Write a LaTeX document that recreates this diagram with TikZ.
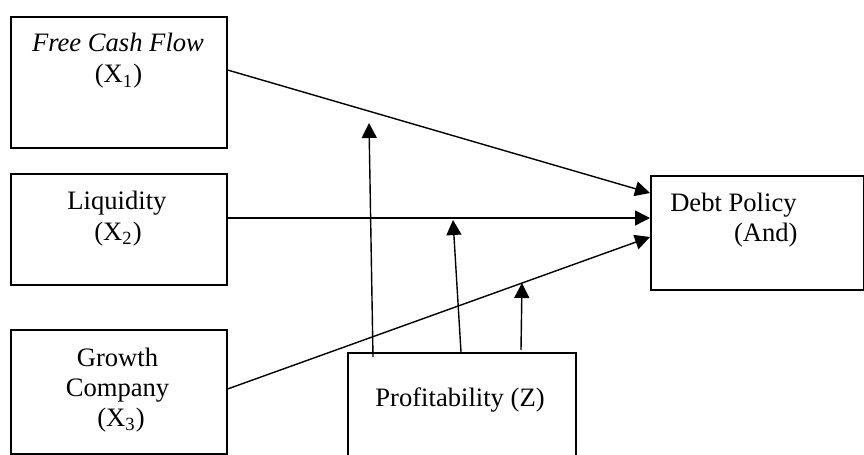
\documentclass[tikz,border=0pt]{standalone}
\usepackage{fontspec}
\setmainfont{Liberation Serif}
\usetikzlibrary{arrows.meta,calc}
\begin{document}
\begin{tikzpicture}[x=0.5pt,y=-0.5pt,
  box/.style={draw,line width=0.8pt,rectangle,inner sep=0pt,anchor=north west},
  lbl/.style={inner sep=0pt,anchor=base,font=\fontsize{13.3}{16}\selectfont},
  arr/.style={line width=0.7pt,-{Triangle[length=7.5pt,width=7.5pt]}}]
\useasboundingbox (0,0) rectangle (864,455);
\clip (0,0) rectangle (864,455);
% boxes
\node[box,minimum width=108pt,minimum height=65.5pt] (x1) at (10,16) {};
\node[box,minimum width=108pt,minimum height=55.5pt] (x2) at (10,173) {};
\node[box,minimum width=108pt,minimum height=62pt] (x3) at (10,329) {};
\node[box,minimum width=114pt,minimum height=70pt] (p) at (347,352) {};
\node[box,minimum width=106.5pt,minimum height=57pt] (d) at (650,175) {};
% labels
\node[lbl] (x1a) at (118,52) {\itshape Free Cash Flow};
\node[lbl] (x1b) at (118.5,83) {(X\textsubscript{1})};
\node[lbl] (x2a) at (117,209) {Liquidity};
\node[lbl] (x2b) at (118,240) {(X\textsubscript{2})};
\node[lbl] (x3a) at (117.5,366) {Growth};
\node[lbl] (x3b) at (117.5,396) {Company};
\node[lbl] (x3c) at (121,426) {(X\textsubscript{3})};
\node[lbl] (pa) at (460,406) {Profitability (Z)};
\node[lbl,anchor=base east] (da) at (797,211) {Debt Policy};
\node[lbl,anchor=base east] (db) at (798,242) {(And)};
% connector points
\coordinate (s1) at ($(x1.north east)+(0,54)$);
\coordinate (s2) at ($(x2.north east)+(0,45)$);
\coordinate (s3) at ($(x3.north east)+(0,60)$);
\coordinate (t1) at ($(d.north west)+(0,18)$);
\coordinate (t2) at ($(d.north west)+(0,43)$);
\coordinate (t3) at ($(d.north west)+(0,62)$);
\coordinate (q1) at ($(p.north west)+(26,5)$);
\coordinate (q2) at ($(p.north west)+(114,0)$);
\coordinate (q3) at ($(p.north west)+(174,-2)$);
\coordinate (e1) at (369,123);
\coordinate (e2) at (453,220);
\coordinate (e3) at (522,283);
% arrows
\draw[arr] (s1) -- (t1);
\draw[arr] (s2) -- (t2);
\draw[arr] (s3) -- (t3);
\draw[arr] (q1) -- (e1);
\draw[arr] (q2) -- (e2);
\draw[arr] (q3) -- (e3);
\end{tikzpicture}
\end{document}
